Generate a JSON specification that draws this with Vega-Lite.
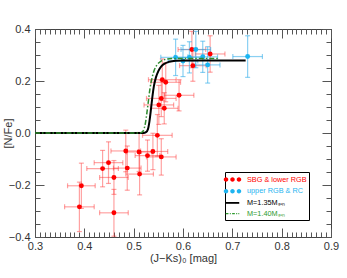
{
  "$schema": "https://vega.github.io/schema/vega-lite/v6.json",
  "width": 296,
  "height": 208,
  "autosize": "none",
  "background": "white",
  "padding": {"left": 35, "top": 29, "right": 16, "bottom": 41},
  "config": {
    "font": "Liberation Sans",
    "view": {"stroke": "#444", "strokeWidth": 1, "fill": "transparent"},
    "axis": {"domain": false, "zindex": 1, "labelColor": "#333", "labelFontSize": 11, "titleFontSize": 11, "titleFontWeight": "normal", "titleColor": "#333", "labelFlush": false, "labelOverlap": false, "gridColor": "#555555", "gridOpacity": 1, "gridWidth": 1}
  },
  "datasets": {
    "red": [
      {"x": 0.390, "y": -0.284, "xe": 0.030, "ye": 0.095},
      {"x": 0.394, "y": -0.203, "xe": 0.028, "ye": 0.087},
      {"x": 0.437, "y": -0.137, "xe": 0.032, "ye": 0.070},
      {"x": 0.449, "y": -0.114, "xe": 0.029, "ye": 0.080},
      {"x": 0.460, "y": -0.171, "xe": 0.029, "ye": 0.065},
      {"x": 0.460, "y": -0.307, "xe": 0.029, "ye": 0.090},
      {"x": 0.484, "y": -0.069, "xe": 0.030, "ye": 0.080},
      {"x": 0.487, "y": -0.135, "xe": 0.028, "ye": 0.085},
      {"x": 0.511, "y": -0.073, "xe": 0.025, "ye": 0.075},
      {"x": 0.512, "y": -0.158, "xe": 0.028, "ye": 0.080},
      {"x": 0.528, "y": -0.087, "xe": 0.025, "ye": 0.060},
      {"x": 0.539, "y": -0.071, "xe": 0.030, "ye": 0.070},
      {"x": 0.556, "y": -0.092, "xe": 0.030, "ye": 0.070},
      {"x": 0.548, "y": -0.009, "xe": 0.030, "ye": 0.080},
      {"x": 0.551, "y": 0.108, "xe": 0.030, "ye": 0.075},
      {"x": 0.556, "y": 0.133, "xe": 0.030, "ye": 0.070},
      {"x": 0.562, "y": 0.095, "xe": 0.028, "ye": 0.060},
      {"x": 0.558, "y": 0.205, "xe": 0.028, "ye": 0.080},
      {"x": 0.565, "y": 0.195, "xe": 0.030, "ye": 0.075},
      {"x": 0.592, "y": 0.145, "xe": 0.030, "ye": 0.060},
      {"x": 0.618, "y": 0.321, "xe": 0.028, "ye": 0.070},
      {"x": 0.620, "y": 0.259, "xe": 0.027, "ye": 0.060},
      {"x": 0.655, "y": 0.304, "xe": 0.030, "ye": 0.070}
    ],
    "blue": [
      {"x": 0.585, "y": 0.291, "xe": 0.030, "ye": 0.070},
      {"x": 0.600, "y": 0.277, "xe": 0.030, "ye": 0.060},
      {"x": 0.613, "y": 0.291, "xe": 0.030, "ye": 0.060},
      {"x": 0.626, "y": 0.321, "xe": 0.030, "ye": 0.070},
      {"x": 0.640, "y": 0.293, "xe": 0.030, "ye": 0.060},
      {"x": 0.650, "y": 0.262, "xe": 0.025, "ye": 0.070},
      {"x": 0.731, "y": 0.294, "xe": 0.030, "ye": 0.080}
    ],
    "m135": [
      {"x": 0.300, "y": 0.0},
      {"x": 0.520, "y": 0.0},
      {"x": 0.525, "y": 0.003},
      {"x": 0.529, "y": 0.015},
      {"x": 0.532, "y": 0.045},
      {"x": 0.535, "y": 0.090},
      {"x": 0.538, "y": 0.140},
      {"x": 0.541, "y": 0.180},
      {"x": 0.545, "y": 0.213},
      {"x": 0.550, "y": 0.238},
      {"x": 0.556, "y": 0.256},
      {"x": 0.563, "y": 0.267},
      {"x": 0.572, "y": 0.274},
      {"x": 0.585, "y": 0.278},
      {"x": 0.600, "y": 0.279},
      {"x": 0.727, "y": 0.279}
    ],
    "m140": [
      {"x": 0.300, "y": 0.0},
      {"x": 0.512, "y": 0.0},
      {"x": 0.517, "y": 0.003},
      {"x": 0.521, "y": 0.015},
      {"x": 0.524, "y": 0.040},
      {"x": 0.527, "y": 0.080},
      {"x": 0.530, "y": 0.125},
      {"x": 0.533, "y": 0.170},
      {"x": 0.537, "y": 0.210},
      {"x": 0.542, "y": 0.243},
      {"x": 0.548, "y": 0.264},
      {"x": 0.556, "y": 0.277},
      {"x": 0.566, "y": 0.284},
      {"x": 0.580, "y": 0.287},
      {"x": 0.672, "y": 0.287}
    ],
    "leg": [
      {"series": "SBG & lower RGB"},
      {"series": "upper RGB & RC"},
      {"series": "M=1.35Mₛᵤₙ"},
      {"series": "M=1.40Mₛᵤₙ"}
    ]
  },
  "resolve": {"scale": {"x": "shared", "y": "shared"}, "axis": {"x": "independent", "y": "independent"}},
  "layer": [
    {
      "data": {"name": "red"},
      "mark": {"type": "errorbar", "ticks": true, "color": "#ff3030", "opacity": 0.45, "thickness": 1.2},
      "encoding": {
        "x": {"field": "x", "type": "quantitative", "scale": {"domain": [0.3, 0.9], "nice": false, "zero": false}, "axis": null},
        "xError": {"field": "xe"},
        "y": {"field": "y", "type": "quantitative", "scale": {"domain": [-0.4, 0.4], "nice": false, "zero": false}, "axis": null}
      }
    },
    {
      "data": {"name": "red"},
      "mark": {"type": "errorbar", "ticks": true, "color": "#ff3030", "opacity": 0.45, "thickness": 1.2},
      "encoding": {
        "x": {"field": "x", "type": "quantitative", "scale": {"domain": [0.3, 0.9], "nice": false, "zero": false}, "axis": null},
        "y": {"field": "y", "type": "quantitative", "scale": {"domain": [-0.4, 0.4], "nice": false, "zero": false}, "axis": null},
        "yError": {"field": "ye"}
      }
    },
    {
      "data": {"name": "blue"},
      "mark": {"type": "errorbar", "ticks": true, "color": "#2aaae8", "opacity": 0.55, "thickness": 1.2},
      "encoding": {
        "x": {"field": "x", "type": "quantitative", "scale": {"domain": [0.3, 0.9], "nice": false, "zero": false}, "axis": null},
        "xError": {"field": "xe"},
        "y": {"field": "y", "type": "quantitative", "scale": {"domain": [-0.4, 0.4], "nice": false, "zero": false}, "axis": null}
      }
    },
    {
      "data": {"name": "blue"},
      "mark": {"type": "errorbar", "ticks": true, "color": "#2aaae8", "opacity": 0.55, "thickness": 1.2},
      "encoding": {
        "x": {"field": "x", "type": "quantitative", "scale": {"domain": [0.3, 0.9], "nice": false, "zero": false}, "axis": null},
        "y": {"field": "y", "type": "quantitative", "scale": {"domain": [-0.4, 0.4], "nice": false, "zero": false}, "axis": null},
        "yError": {"field": "ye"}
      }
    },
    {
      "data": {"name": "red"},
      "mark": {"type": "point", "filled": true, "color": "#ff0000", "opacity": 1, "size": 24},
      "encoding": {
        "x": {"field": "x", "type": "quantitative", "scale": {"domain": [0.3, 0.9], "nice": false, "zero": false},
          "axis": {"orient": "bottom", "values": [0.3, 0.4, 0.5, 0.6, 0.7, 0.8, 0.9], "format": ".1f", "ticks": false, "grid": true, "gridDash": [9, 1000], "labelPadding": 3, "title": "(J−Ks)₀ [mag]", "titleY": 15}},
        "y": {"field": "y", "type": "quantitative", "scale": {"domain": [-0.4, 0.4], "nice": false, "zero": false},
          "axis": {"orient": "left", "values": [-0.4, -0.2, 0, 0.2, 0.4], "format": ".1f", "ticks": false, "grid": true, "gridDash": [9, 1000], "labelPadding": 5, "title": "[N/Fe]", "titleX": -22}}
      }
    },
    {
      "data": {"name": "blue"},
      "mark": {"type": "point", "filled": true, "color": "#19b5f2", "opacity": 1, "size": 24},
      "encoding": {
        "x": {"field": "x", "type": "quantitative", "scale": {"domain": [0.3, 0.9], "nice": false, "zero": false},
          "axis": {"orient": "bottom", "values": [0.3,0.31,0.32,0.33,0.34,0.35,0.36,0.37,0.38,0.39,0.4,0.41,0.42,0.43,0.44,0.45,0.46,0.47,0.48,0.49,0.5,0.51,0.52,0.53,0.54,0.55,0.56,0.57,0.58,0.59,0.6,0.61,0.62,0.63,0.64,0.65,0.66,0.67,0.68,0.69,0.7,0.71,0.72,0.73,0.74,0.75,0.76,0.77,0.78,0.79,0.8,0.81,0.82,0.83,0.84,0.85,0.86,0.87,0.88,0.89,0.9], "ticks": false, "grid": true, "gridDash": [5, 1000], "labels": false, "title": null}},
        "y": {"field": "y", "type": "quantitative", "scale": {"domain": [-0.4, 0.4], "nice": false, "zero": false},
          "axis": {"orient": "left", "values": [-0.4,-0.35,-0.3,-0.25,-0.2,-0.15,-0.1,-0.05,0,0.05,0.1,0.15,0.2,0.25,0.3,0.35,0.4], "ticks": false, "grid": true, "gridDash": [5, 1000], "labels": false, "title": null}}
      }
    },
    {
      "data": {"name": "m135"},
      "mark": {"type": "line", "color": "#000000", "strokeWidth": 2, "interpolate": "monotone"},
      "encoding": {
        "x": {"field": "x", "type": "quantitative", "scale": {"domain": [0.3, 0.9], "nice": false, "zero": false},
          "axis": {"orient": "top", "values": [0.3, 0.4, 0.5, 0.6, 0.7, 0.8, 0.9], "ticks": false, "grid": true, "gridDash": [9, 1000], "labels": false, "title": null}},
        "y": {"field": "y", "type": "quantitative", "scale": {"domain": [-0.4, 0.4], "nice": false, "zero": false},
          "axis": {"orient": "right", "values": [-0.4, -0.2, 0, 0.2, 0.4], "ticks": false, "grid": true, "gridDash": [9, 1000], "labels": false, "title": null}}
      }
    },
    {
      "data": {"name": "m140"},
      "mark": {"type": "line", "color": "#2e8b2e", "strokeWidth": 1.5, "strokeDash": [5, 2, 1.5, 2], "interpolate": "monotone"},
      "encoding": {
        "x": {"field": "x", "type": "quantitative", "scale": {"domain": [0.3, 0.9], "nice": false, "zero": false},
          "axis": {"orient": "top", "values": [0.3,0.31,0.32,0.33,0.34,0.35,0.36,0.37,0.38,0.39,0.4,0.41,0.42,0.43,0.44,0.45,0.46,0.47,0.48,0.49,0.5,0.51,0.52,0.53,0.54,0.55,0.56,0.57,0.58,0.59,0.6,0.61,0.62,0.63,0.64,0.65,0.66,0.67,0.68,0.69,0.7,0.71,0.72,0.73,0.74,0.75,0.76,0.77,0.78,0.79,0.8,0.81,0.82,0.83,0.84,0.85,0.86,0.87,0.88,0.89,0.9], "ticks": false, "grid": true, "gridDash": [5, 1000], "labels": false, "title": null}},
        "y": {"field": "y", "type": "quantitative", "scale": {"domain": [-0.4, 0.4], "nice": false, "zero": false},
          "axis": {"orient": "right", "values": [-0.4,-0.35,-0.3,-0.25,-0.2,-0.15,-0.1,-0.05,0,0.05,0.1,0.15,0.2,0.25,0.3,0.35,0.4], "ticks": false, "grid": true, "gridDash": [5, 1000], "labels": false, "title": null}}
      }
    },
    {
      "data": {"name": "leg"},
      "mark": {"type": "point", "filled": true, "opacity": 0, "size": 81},
      "encoding": {
        "color": {"field": "series", "type": "nominal",
          "scale": {"domain": ["SBG & lower RGB", "upper RGB & RC", "M=1.35Mₛᵤₙ", "M=1.40Mₛᵤₙ"], "range": ["#ff0000", "#1fb4f0", "#000000", "#2e9a2e"]},
          "legend": {"orient": "none", "legendX": 190, "legendY": 143, "title": null, "strokeColor": "#000", "fillColor": "#fff", "padding": 2, "rowPadding": 0.7, "symbolSize": 81, "symbolOpacity": 1, "symbolOffset": 0, "labelOffset": 9, "labelFontSize": 7.3, "labelFont": "Liberation Sans", "labelColor": {"expr": "scale('color', datum.value)"}}},
        "shape": {"field": "series", "type": "nominal",
          "scale": {"domain": ["SBG & lower RGB", "upper RGB & RC", "M=1.35Mₛᵤₙ", "M=1.40Mₛᵤₙ"], "range": [
            "M-1.94,0a0.5,0.5 0 1,0 1,0a0.5,0.5 0 1,0 -1,0Z M-0.5,0a0.5,0.5 0 1,0 1,0a0.5,0.5 0 1,0 -1,0Z M0.94,0a0.5,0.5 0 1,0 1,0a0.5,0.5 0 1,0 -1,0Z",
            "M-1.94,0a0.5,0.5 0 1,0 1,0a0.5,0.5 0 1,0 -1,0Z M-0.5,0a0.5,0.5 0 1,0 1,0a0.5,0.5 0 1,0 -1,0Z M0.94,0a0.5,0.5 0 1,0 1,0a0.5,0.5 0 1,0 -1,0Z",
            "M-1.5,-0.2H1.5V0.2H-1.5Z",
            "M-1.5,-0.16H-0.9V0.16H-1.5Z M-0.6,-0.16H-0.38V0.16H-0.6Z M-0.08,-0.16H0.52V0.16H-0.08Z M0.82,-0.16H1.04V0.16H0.82Z M1.3,-0.16H1.5V0.16H1.3Z"]},
          "legend": {"orient": "none", "legendX": 190, "legendY": 143, "title": null, "strokeColor": "#000", "fillColor": "#fff", "padding": 2, "rowPadding": 0.7, "symbolSize": 81, "symbolOpacity": 1, "symbolOffset": 0, "labelOffset": 9, "labelFontSize": 7.3, "labelFont": "Liberation Sans", "labelColor": {"expr": "scale('color', datum.value)"}}}
      }
    }
  ]
}
